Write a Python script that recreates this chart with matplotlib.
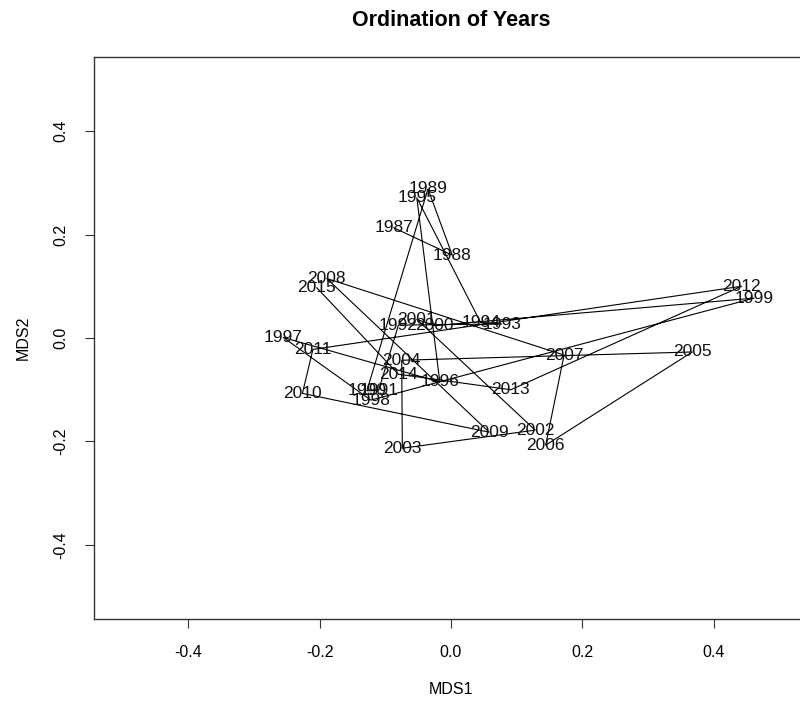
import numpy as np
import matplotlib
matplotlib.use("Agg")
import matplotlib.pyplot as plt

plt.rcParams["font.family"] = ["Liberation Sans", "DejaVu Sans"]

# MDS scores per year
years = list(range(1987, 2016))
mds1 = [-0.087, 0.002, -0.035, -0.128, -0.110, -0.080, 0.077, 0.045, -0.052, -0.017,
        -0.255, -0.122, 0.461, -0.025, -0.052, 0.128, -0.074, -0.075, 0.367, 0.144,
        0.172, -0.189, 0.058, -0.226, -0.210, 0.442, 0.091, -0.080, -0.204]
mds2 = [0.213, 0.160, 0.288, -0.102, -0.101, 0.025, 0.027, 0.030, 0.271, -0.085,
        0.001, -0.120, 0.077, 0.024, 0.036, -0.178, -0.213, -0.043, -0.027, -0.207,
        -0.033, 0.115, -0.182, -0.107, -0.022, 0.100, -0.100, -0.070, 0.097]

fig = plt.figure(figsize=(8, 7.04), dpi=100)
ax = fig.add_axes([94 / 800, 85 / 704, 714 / 800, 562 / 704])

# join the years in order, then write the labels on top
ax.plot(mds1, mds2, color="black", linewidth=0.8)
for yr, x, y in zip(years, mds1, mds2):
    ax.text(x, y, str(yr), ha="center", va="center", fontsize=12.5, color="#111111")

ax.set_xlim(-0.543, 0.543)
ax.set_ylim(-0.543, 0.543)
ticks = [-0.4, -0.2, 0.0, 0.2, 0.4]
ax.set_xticks(ticks)
ax.set_yticks(ticks)
ax.set_xticklabels([f"{t:.1f}" for t in ticks])
ax.set_yticklabels([f"{t:.1f}" for t in ticks], rotation=90, va="center")
ax.tick_params(direction="out", length=6.5, width=0.8, labelsize=11.5, pad=12, color="#333333")
for s in ax.spines.values():
    s.set_linewidth(1.0)
    s.set_color("#333333")

ax.set_title("Ordination of Years", fontsize=15.5, fontweight="bold", pad=22)
ax.set_xlabel("MDS1", fontsize=11.5, labelpad=16)
ax.set_ylabel("MDS2", fontsize=11.5, labelpad=16)

fig.savefig("out.png", dpi=100)
